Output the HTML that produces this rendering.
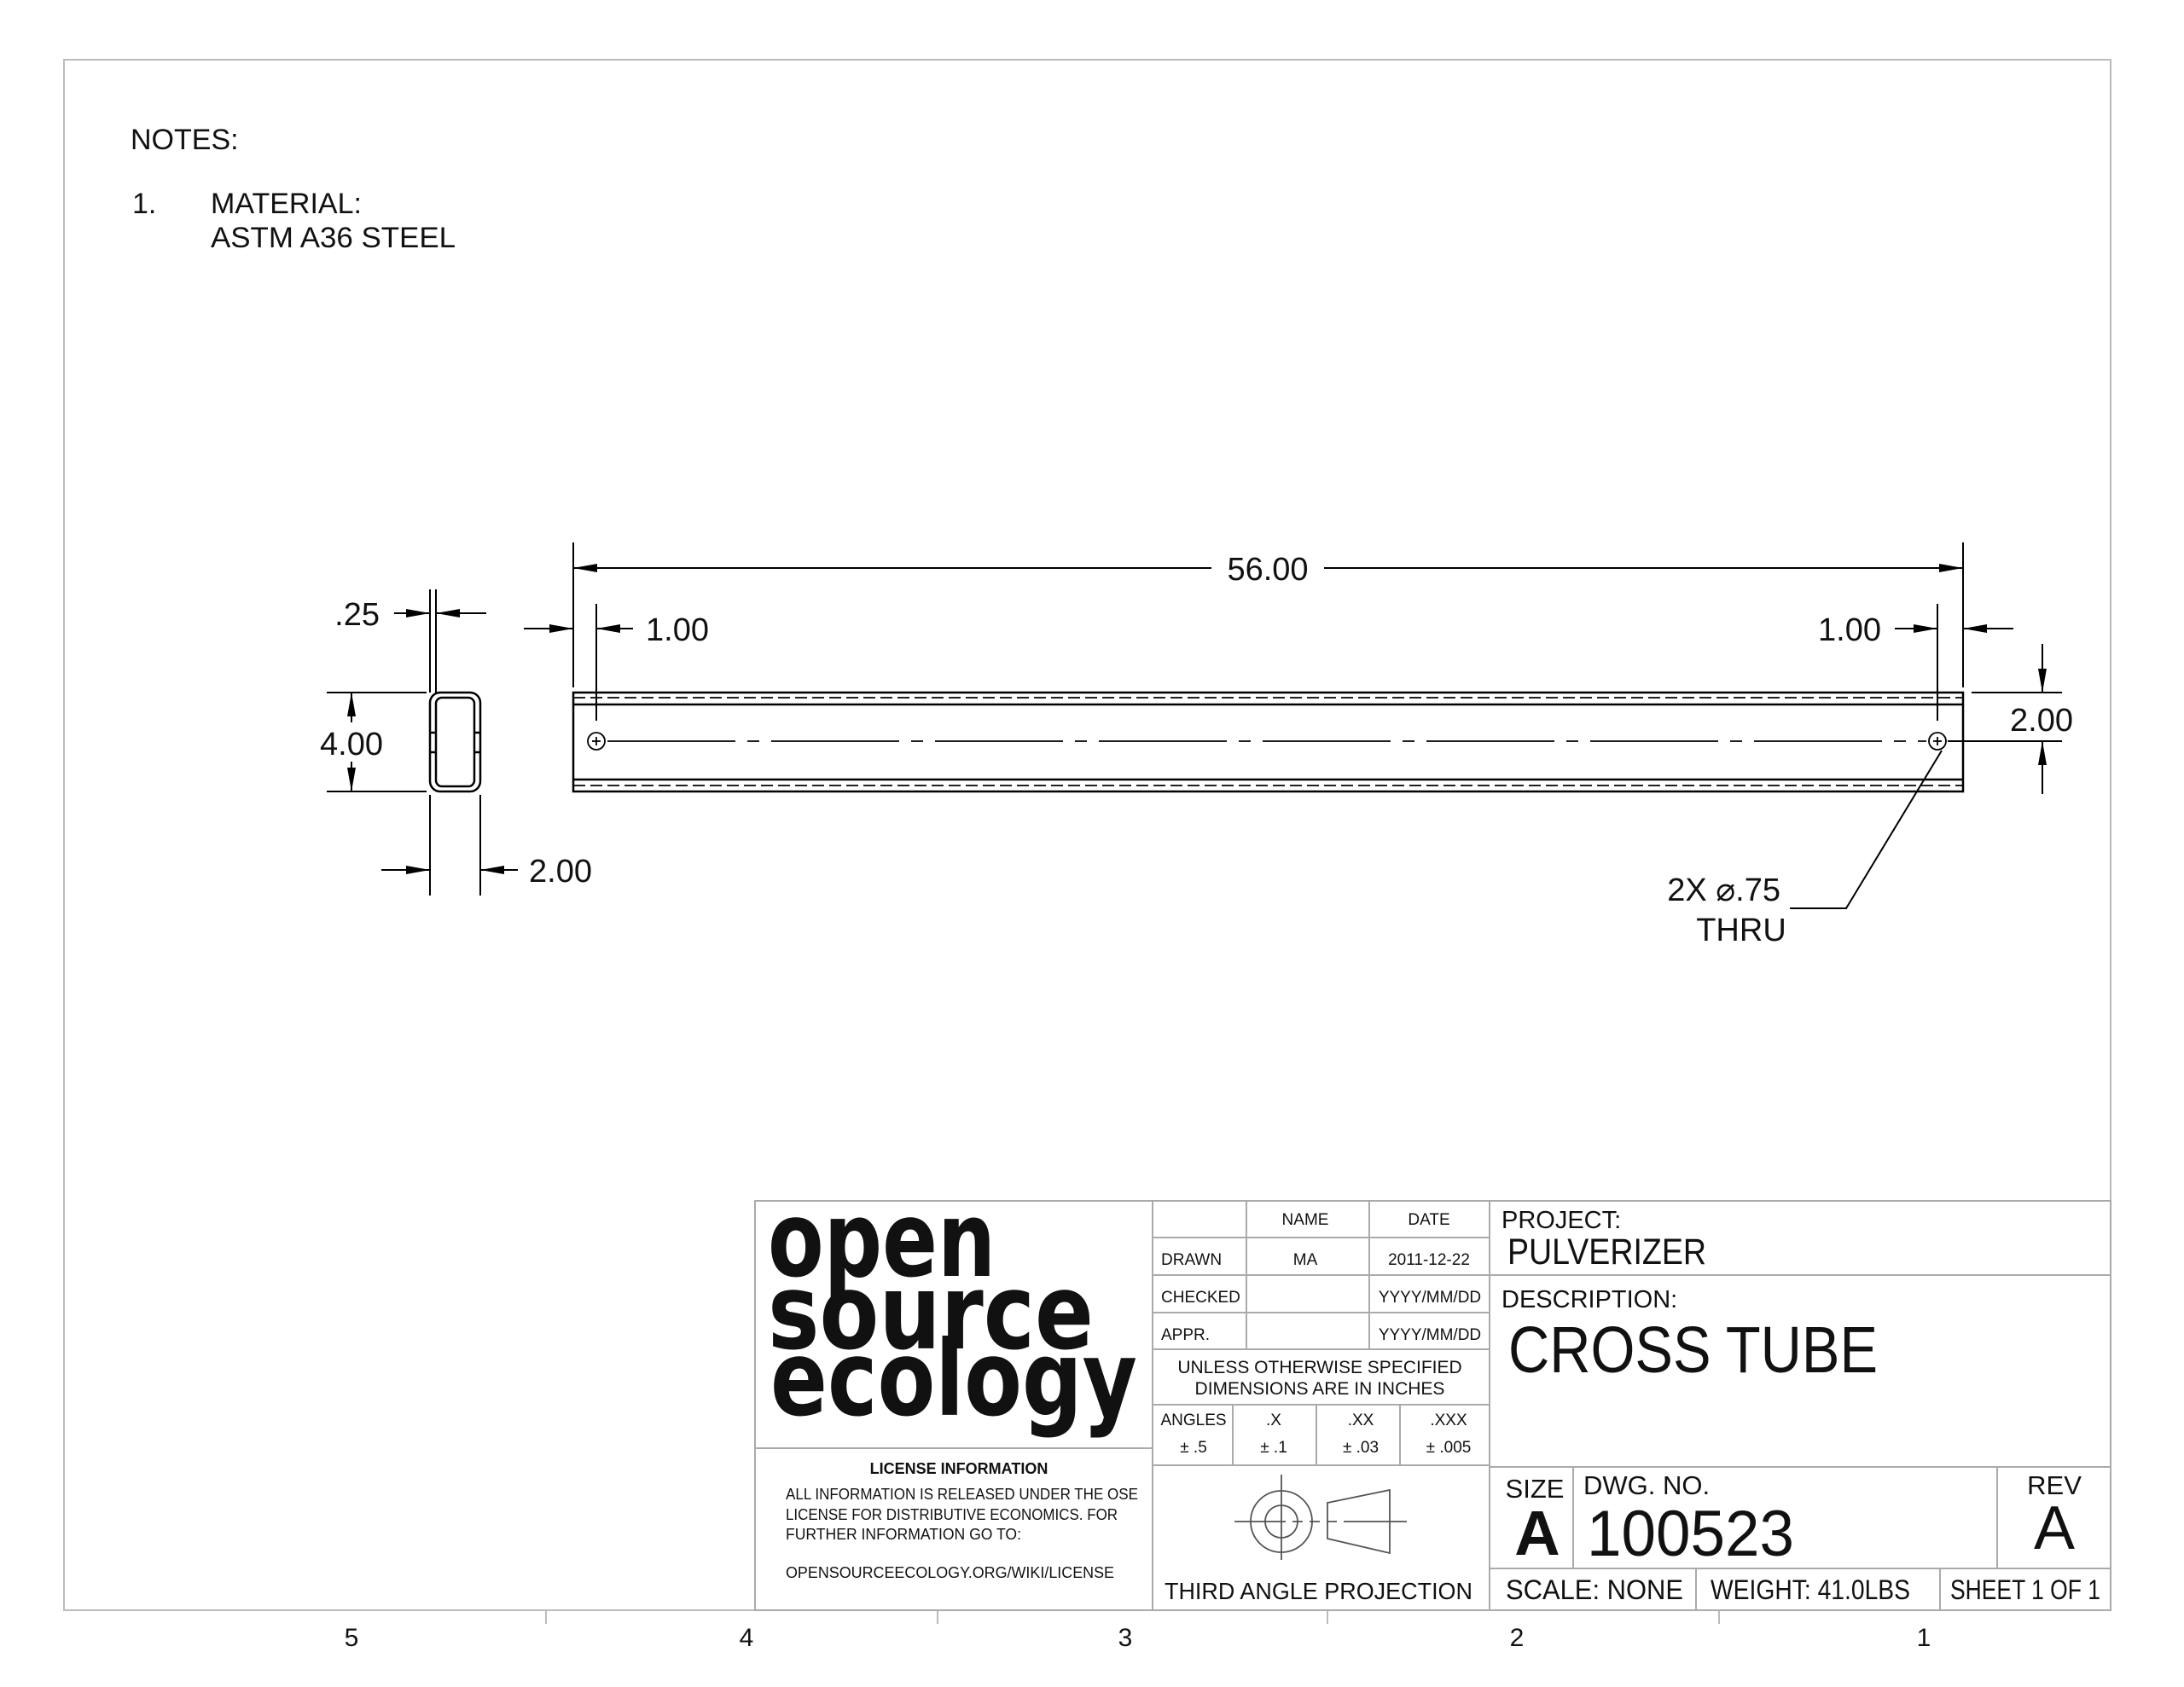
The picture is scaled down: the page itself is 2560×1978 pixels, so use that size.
<!DOCTYPE html>
<html><head><meta charset="utf-8"><style>
html,body{margin:0;padding:0;background:#fff;}
svg{display:block;}
text{font-family:"Liberation Sans",sans-serif;fill:#111;}
</style></head><body>
<svg width="2560" height="1978" viewBox="0 0 2560 1978" xmlns="http://www.w3.org/2000/svg">
<rect x="0" y="0" width="2560" height="1978" fill="#fff"/>
<rect x="75" y="70" width="2399" height="1818" fill="none" stroke="#bbb" stroke-width="2"/>
<g stroke="#bbb" stroke-width="2">
<line x1="640" y1="1888" x2="640" y2="1904"/><line x1="1099" y1="1888" x2="1099" y2="1904"/>
<line x1="1556" y1="1888" x2="1556" y2="1904"/><line x1="2015" y1="1888" x2="2015" y2="1904"/>
</g>
<g font-size="30" fill="#333">
<text x="412" y="1930" text-anchor="middle">5</text><text x="875" y="1930" text-anchor="middle">4</text>
<text x="1319" y="1930" text-anchor="middle">3</text><text x="1778" y="1930" text-anchor="middle">2</text>
<text x="2255" y="1930" text-anchor="middle">1</text>
</g>
<g font-size="34">
<text x="153" y="175">NOTES:</text>
<text x="155" y="250">1.</text>
<text x="247" y="250">MATERIAL:</text>
<text x="247" y="290" textLength="287" lengthAdjust="spacingAndGlyphs">ASTM A36 STEEL</text>
</g>
<g stroke="#000" stroke-width="2.5" fill="none">
<rect x="504" y="812" width="59" height="116" rx="12"/>
<rect x="511" y="818" width="45" height="104" rx="7"/>
<line x1="504" y1="859" x2="511" y2="859"/><line x1="504" y1="882" x2="511" y2="882"/>
<line x1="556" y1="859" x2="563" y2="859"/><line x1="556" y1="882" x2="563" y2="882"/>
</g>
<g stroke="#000" stroke-width="2" fill="none">
<line x1="504" y1="691" x2="504" y2="812"/><line x1="511" y1="691" x2="511" y2="812"/>
<line x1="462" y1="719" x2="504" y2="719"/><line x1="511" y1="719" x2="570" y2="719"/>
<line x1="383" y1="812" x2="500" y2="812"/><line x1="383" y1="928" x2="500" y2="928"/>
<line x1="412" y1="812" x2="412" y2="847"/><line x1="412" y1="893" x2="412" y2="928"/>
<line x1="504" y1="932" x2="504" y2="1050"/><line x1="563" y1="932" x2="563" y2="1050"/>
<line x1="447" y1="1020" x2="504" y2="1020"/><line x1="563" y1="1020" x2="607" y2="1020"/>
</g>
<g fill="#000">
<polygon points="504,719 476,714 476,724"/><polygon points="511,719 539,714 539,724"/>
<polygon points="412,812 407,840 417,840"/><polygon points="412,928 407,900 417,900"/>
<polygon points="504,1020 476,1015 476,1025"/><polygon points="563,1020 591,1015 591,1025"/>
</g>
<g font-size="38">
<text x="445" y="733" text-anchor="end">.25</text>
<text x="412" y="885" text-anchor="middle" style="paint-order:stroke" stroke="#fff" stroke-width="8">4.00</text>
<text x="620" y="1034">2.00</text>
</g>
<g stroke="#000" stroke-width="2.5" fill="none">
<rect x="672" y="812" width="1629" height="116"/>
<line x1="672" y1="826" x2="2301" y2="826"/><line x1="672" y1="914" x2="2301" y2="914"/>
</g>
<g stroke="#000" stroke-width="1.8" fill="none" stroke-dasharray="14 6">
<line x1="672" y1="818" x2="2301" y2="818"/><line x1="672" y1="921" x2="2301" y2="921"/>
</g>
<g stroke="#000" stroke-width="1.8" fill="none">
<circle cx="699" cy="869" r="10"/><circle cx="2271" cy="869" r="10"/>
<line x1="694" y1="869" x2="704" y2="869"/><line x1="699" y1="864" x2="699" y2="874"/>
<line x1="2266" y1="869" x2="2276" y2="869"/><line x1="2271" y1="864" x2="2271" y2="874"/>
<line x1="712" y1="869" x2="2258" y2="869" stroke-dasharray="150 14 14 14"/>
</g>
<g stroke="#000" stroke-width="2" fill="none">
<line x1="672" y1="636" x2="672" y2="806"/><line x1="2301" y1="636" x2="2301" y2="806"/>
<line x1="672" y1="666" x2="1420" y2="666"/><line x1="1552" y1="666" x2="2301" y2="666"/>
<line x1="699" y1="708" x2="699" y2="845"/><line x1="2271" y1="708" x2="2271" y2="845"/>
<line x1="614" y1="737" x2="672" y2="737"/><line x1="699" y1="737" x2="742" y2="737"/>
<line x1="2221" y1="737" x2="2271" y2="737"/><line x1="2301" y1="737" x2="2360" y2="737"/>
<line x1="2311" y1="812" x2="2417" y2="812"/><line x1="2283" y1="869" x2="2417" y2="869"/>
<line x1="2394" y1="755" x2="2394" y2="812"/><line x1="2394" y1="869" x2="2394" y2="931"/>
<polyline points="2276,880 2164,1065 2098,1065"/>
</g>
<g fill="#000">
<polygon points="672,666 700,661 700,671"/><polygon points="2301,666 2273,661 2273,671"/>
<polygon points="672,737 644,732 644,742"/><polygon points="699,737 727,732 727,742"/>
<polygon points="2271,737 2243,732 2243,742"/><polygon points="2301,737 2329,732 2329,742"/>
<polygon points="2394,812 2389,784 2399,784"/><polygon points="2394,869 2389,897 2399,897"/>
</g>
<g font-size="38">
<text x="1486" y="680" text-anchor="middle">56.00</text>
<text x="757" y="751">1.00</text>
<text x="2205" y="751" text-anchor="end">1.00</text>
<text x="2393" y="857" text-anchor="middle" style="paint-order:stroke" stroke="#fff" stroke-width="8">2.00</text>
<text x="2087" y="1056" text-anchor="end">2X ⌀.75</text>
<text x="2041" y="1103" text-anchor="middle">THRU</text>
</g>
<g stroke="#aaa" stroke-width="2" fill="none">
<rect x="885" y="1408" width="1589" height="480"/>
<line x1="1351" y1="1408" x2="1351" y2="1888"/>
<line x1="1746" y1="1408" x2="1746" y2="1888"/>
<line x1="885" y1="1698" x2="1351" y2="1698"/>
<line x1="1351" y1="1451" x2="1746" y2="1451"/><line x1="1351" y1="1495" x2="1746" y2="1495"/>
<line x1="1351" y1="1539" x2="1746" y2="1539"/><line x1="1351" y1="1582" x2="1746" y2="1582"/>
<line x1="1351" y1="1647" x2="1746" y2="1647"/><line x1="1351" y1="1718" x2="1746" y2="1718"/>
<line x1="1461" y1="1408" x2="1461" y2="1582"/><line x1="1605" y1="1408" x2="1605" y2="1582"/>
<line x1="1445" y1="1647" x2="1445" y2="1718"/><line x1="1543" y1="1647" x2="1543" y2="1718"/>
<line x1="1641" y1="1647" x2="1641" y2="1718"/>
<line x1="1746" y1="1495" x2="2474" y2="1495"/><line x1="1746" y1="1720" x2="2474" y2="1720"/>
<line x1="1746" y1="1839" x2="2474" y2="1839"/>
<line x1="1844" y1="1720" x2="1844" y2="1839"/><line x1="2341" y1="1720" x2="2341" y2="1839"/>
<line x1="1988" y1="1839" x2="1988" y2="1888"/><line x1="2274" y1="1839" x2="2274" y2="1888"/>
</g>
<g font-weight="bold" fill="#000" style="font-family:'DejaVu Sans',sans-serif">
<text x="900" y="1496" font-size="122" textLength="267" lengthAdjust="spacingAndGlyphs" style="font-family:'DejaVu Sans',sans-serif">open</text>
<text x="900" y="1581" font-size="122" textLength="382" lengthAdjust="spacingAndGlyphs" style="font-family:'DejaVu Sans',sans-serif">source</text>
<text x="903" y="1659" font-size="122" textLength="430" lengthAdjust="spacingAndGlyphs" style="font-family:'DejaVu Sans',sans-serif">ecology</text>
</g>
<g font-size="18">
<text x="1124" y="1728" text-anchor="middle" font-weight="bold">LICENSE INFORMATION</text>
<text x="921" y="1758" textLength="413" lengthAdjust="spacingAndGlyphs">ALL INFORMATION IS RELEASED UNDER THE OSE</text>
<text x="921" y="1782" textLength="389" lengthAdjust="spacingAndGlyphs">LICENSE FOR DISTRIBUTIVE ECONOMICS. FOR</text>
<text x="921" y="1805" textLength="276" lengthAdjust="spacingAndGlyphs">FURTHER INFORMATION GO TO:</text>
<text x="921" y="1850" textLength="385" lengthAdjust="spacingAndGlyphs">OPENSOURCEECOLOGY.ORG/WIKI/LICENSE</text>
</g>
<g font-size="19">
<text x="1530" y="1436" text-anchor="middle">NAME</text>
<text x="1675" y="1436" text-anchor="middle">DATE</text>
<text x="1361" y="1483">DRAWN</text>
<text x="1530" y="1483" text-anchor="middle">MA</text>
<text x="1675" y="1483" text-anchor="middle">2011-12-22</text>
<text x="1361" y="1527">CHECKED</text>
<text x="1676" y="1527" text-anchor="middle">YYYY/MM/DD</text>
<text x="1361" y="1571">APPR.</text>
<text x="1676" y="1571" text-anchor="middle">YYYY/MM/DD</text>
<text x="1547" y="1610" text-anchor="middle" font-size="21">UNLESS OTHERWISE SPECIFIED</text>
<text x="1547" y="1635" text-anchor="middle" font-size="21">DIMENSIONS ARE IN INCHES</text>
<text x="1399" y="1671" text-anchor="middle">ANGLES</text>
<text x="1493" y="1671" text-anchor="middle">.X</text>
<text x="1595" y="1671" text-anchor="middle">.XX</text>
<text x="1698" y="1671" text-anchor="middle">.XXX</text>
<text x="1399" y="1703" text-anchor="middle">± .5</text>
<text x="1493" y="1703" text-anchor="middle">± .1</text>
<text x="1595" y="1703" text-anchor="middle">± .03</text>
<text x="1698" y="1703" text-anchor="middle">± .005</text>
</g>
<g stroke="#555" stroke-width="1.8" fill="none">
<circle cx="1502" cy="1784" r="36"/><circle cx="1502" cy="1784" r="19"/>
<line x1="1447" y1="1784" x2="1649" y2="1784" stroke-dasharray="60 8 12 8 12 8 12 8 100"/>
<line x1="1502" y1="1729" x2="1502" y2="1829"/>
<polygon points="1556,1762 1629,1747 1629,1821 1556,1804"/>
</g>
<text x="1365" y="1875" font-size="28" fill="#333" textLength="361" lengthAdjust="spacingAndGlyphs">THIRD ANGLE PROJECTION</text>
<text x="1760" y="1440" font-size="29">PROJECT:</text>
<text x="1767" y="1482" font-size="43" textLength="233" lengthAdjust="spacingAndGlyphs">PULVERIZER</text>
<text x="1760" y="1533" font-size="29">DESCRIPTION:</text>
<text x="1768" y="1609" font-size="77" textLength="433" lengthAdjust="spacingAndGlyphs">CROSS TUBE</text>
<text x="1799" y="1756" font-size="31" text-anchor="middle">SIZE</text>
<text x="1802" y="1823" font-size="74" font-weight="bold" text-anchor="middle">A</text>
<text x="1856" y="1752" font-size="31">DWG.  NO.</text>
<text x="1860" y="1824" font-size="76" textLength="243" lengthAdjust="spacingAndGlyphs">100523</text>
<text x="2408" y="1752" font-size="31" text-anchor="middle">REV</text>
<text x="2408" y="1816" font-size="72" text-anchor="middle">A</text>
<text x="1765" y="1875" font-size="32" textLength="208" lengthAdjust="spacingAndGlyphs">SCALE: NONE</text>
<text x="2005" y="1875" font-size="32" textLength="234" lengthAdjust="spacingAndGlyphs">WEIGHT: 41.0LBS</text>
<text x="2286" y="1875" font-size="32" textLength="176" lengthAdjust="spacingAndGlyphs">SHEET 1 OF 1</text>
</svg>
</body></html>
